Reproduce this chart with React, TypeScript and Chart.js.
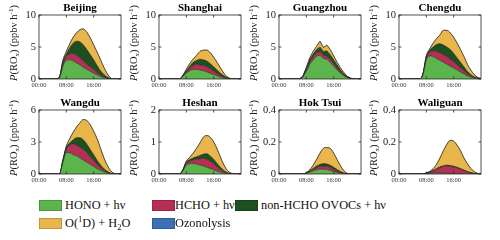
import React, { useEffect, useRef } from "react";
import { Chart, registerables } from "chart.js";

Chart.register(...registerables);

// ---------- data ----------
const HOURS = [0, 1, 2, 3, 4, 5, 6, 7, 8, 9, 10, 11, 12, 13, 14, 15, 16, 17, 18, 19, 20, 21, 22, 23, 24];
const X_TICKS = [0, 8, 16];
const X_TICK_LABELS = ["00:00", "08:00", "16:00"];

const SERIES_NAMES = ["HONO + hν", "HCHO + hν", "non-HCHO OVOCs + hν", "O(1D) + H2O", "Ozonolysis"];
const SERIES_COLORS = ["#5cb54c", "#b52f55", "#1d4f1f", "#e8b64b", "#3b6fb6"];

const SITE_NAMES = ["Beijing", "Shanghai", "Guangzhou", "Chengdu", "Wangdu", "Heshan", "Hok Tsui", "Waliguan"];
const SITE_YMAX = [10, 10, 10, 10, 6, 2, 0.4, 0.4];
const SITE_YTICKS = [[0, 5, 10], [0, 5, 10], [0, 5, 10], [0, 5, 10], [0, 3, 6], [0, 1, 2], [0, 0.2, 0.4], [0, 0.2, 0.4]];
const SITE_YTICK_LABELS = [
  ["0", "5", "10"], ["0", "5", "10"], ["0", "5", "10"], ["0", "5", "10"],
  ["0", "3", "6"], ["0", "1", "2"], ["0", "0.2", "0.4"], ["0", "0.2", "0.4"],
];

const NO_OZONOLYSIS = [0, 0, 0, 0, 0, 0, 0, 0, 0, 0, 0, 0, 0, 0, 0, 0, 0, 0, 0, 0, 0, 0, 0, 0, 0];

const BEIJING_HONO = [0, 0, 0, 0, 0, 0, 0.2, 2.0, 2.9, 3.0, 2.8, 2.5, 2.2, 1.8, 1.5, 1.2, 0.9, 0.65, 0.4, 0.2, 0.08, 0.02, 0, 0, 0];
const BEIJING_HCHO = [0, 0, 0, 0, 0, 0, 0.05, 0.4, 0.6, 0.9, 1.2, 1.2, 1.1, 1.0, 0.8, 0.7, 0.6, 0.35, 0.25, 0.15, 0.07, 0.02, 0, 0, 0];
const BEIJING_OVOC = [0, 0, 0, 0, 0, 0, 0.05, 0.3, 0.4, 1.0, 1.6, 2.2, 2.5, 2.5, 2.3, 1.9, 1.5, 1.1, 0.65, 0.35, 0.15, 0.04, 0, 0, 0];
const BEIJING_O1D = [0, 0, 0, 0, 0, 0, 0.05, 0.2, 0.4, 0.6, 0.9, 1.3, 1.9, 2.5, 2.7, 2.6, 2.3, 2.1, 1.7, 1.1, 0.5, 0.07, 0, 0, 0];

const SHANGHAI_HONO = [0, 0, 0, 0, 0, 0, 0, 0.4, 0.9, 1.3, 1.5, 1.5, 1.4, 1.3, 1.1, 0.9, 0.7, 0.5, 0.3, 0.15, 0.05, 0, 0, 0, 0];
const SHANGHAI_HCHO = [0, 0, 0, 0, 0, 0, 0, 0.1, 0.2, 0.4, 0.6, 0.8, 0.8, 0.8, 0.8, 0.7, 0.5, 0.4, 0.25, 0.15, 0.05, 0.02, 0, 0, 0];
const SHANGHAI_OVOC = [0, 0, 0, 0, 0, 0, 0, 0.05, 0.2, 0.3, 0.5, 0.6, 0.9, 0.9, 0.9, 0.8, 0.7, 0.5, 0.35, 0.2, 0.1, 0.02, 0, 0, 0];
const SHANGHAI_O1D = [0, 0, 0, 0, 0, 0, 0, 0.05, 0.2, 0.4, 0.5, 0.8, 1.2, 1.5, 1.7, 1.7, 1.5, 1.2, 0.8, 0.4, 0.1, 0.02, 0, 0, 0];

const GUANGZHOU_HONO = [0, 0, 0, 0, 0, 0, 0, 0.3, 1.2, 2.3, 3.0, 3.6, 3.7, 3.2, 3.1, 2.6, 2.0, 1.4, 0.9, 0.5, 0.2, 0.05, 0, 0, 0];
const GUANGZHOU_HCHO = [0, 0, 0, 0, 0, 0, 0, 0.05, 0.2, 0.4, 0.5, 0.5, 0.6, 0.5, 0.5, 0.5, 0.4, 0.3, 0.2, 0.1, 0.05, 0.02, 0, 0, 0];
const GUANGZHOU_OVOC = [0, 0, 0, 0, 0, 0, 0, 0.05, 0.2, 0.3, 0.4, 0.5, 0.7, 0.6, 0.8, 0.7, 0.6, 0.5, 0.3, 0.2, 0.1, 0.03, 0, 0, 0];
const GUANGZHOU_O1D = [0, 0, 0, 0, 0, 0, 0, 0.05, 0.2, 0.3, 0.4, 0.5, 0.9, 0.6, 0.9, 0.8, 0.6, 0.4, 0.3, 0.2, 0.05, 0.02, 0, 0, 0];

const CHENGDU_HONO = [0, 0, 0, 0, 0, 0, 0, 0.6, 3.0, 3.6, 3.5, 3.2, 2.9, 2.6, 2.3, 2.0, 1.7, 1.4, 1.1, 0.8, 0.5, 0.3, 0.15, 0.05, 0];
const CHENGDU_HCHO = [0, 0, 0, 0, 0, 0, 0, 0.1, 0.3, 0.5, 0.9, 1.1, 1.2, 1.2, 1.2, 1.1, 1.0, 0.8, 0.6, 0.5, 0.3, 0.2, 0.1, 0.03, 0];
const CHENGDU_OVOC = [0, 0, 0, 0, 0, 0, 0, 0.05, 0.2, 0.4, 0.6, 1.1, 1.4, 1.5, 1.5, 1.5, 1.3, 1.1, 0.9, 0.6, 0.4, 0.2, 0.1, 0.04, 0];
const CHENGDU_O1D = [0, 0, 0, 0, 0, 0, 0, 0.05, 0.1, 0.2, 0.6, 0.9, 1.4, 2.3, 2.6, 2.6, 2.5, 2.3, 2.0, 1.6, 1.1, 0.7, 0.35, 0.13, 0.03];
const CHENGDU_OZONOLYSIS = [0, 0, 0, 0, 0, 0, 0, 0, 0, 0, 0, 0, 0, 0, 0, 0, 0, 0, 0, 0, 0, 0, 0, 0.03, 0.08];

const WANGDU_HONO = [0, 0, 0, 0, 0, 0, 0, 1.1, 2.0, 2.0, 1.8, 1.7, 1.5, 1.3, 1.1, 0.9, 0.7, 0.5, 0.35, 0.2, 0.1, 0.03, 0, 0, 0];
const WANGDU_HCHO = [0, 0, 0, 0, 0, 0, 0, 0.1, 0.3, 0.7, 1.0, 1.0, 1.0, 1.0, 0.9, 0.7, 0.6, 0.4, 0.25, 0.15, 0.05, 0.02, 0, 0, 0];
const WANGDU_OVOC = [0, 0, 0, 0, 0, 0, 0, 0.1, 0.2, 0.2, 0.4, 0.7, 0.9, 0.9, 0.8, 0.7, 0.5, 0.4, 0.25, 0.15, 0.1, 0.03, 0, 0, 0];
const WANGDU_O1D = [0, 0, 0, 0, 0, 0, 0, 0, 0.1, 0.4, 0.7, 1.0, 1.4, 1.9, 2.2, 2.3, 2.2, 2.0, 1.55, 1.0, 0.55, 0.22, 0.05, 0, 0];

const HESHAN_HONO = [0, 0, 0, 0, 0, 0, 0, 0.1, 0.28, 0.32, 0.33, 0.31, 0.28, 0.25, 0.21, 0.17, 0.13, 0.09, 0.06, 0.03, 0.01, 0, 0, 0, 0];
const HESHAN_HCHO = [0, 0, 0, 0, 0, 0, 0, 0.02, 0.05, 0.08, 0.11, 0.15, 0.2, 0.24, 0.25, 0.23, 0.19, 0.13, 0.08, 0.04, 0.02, 0.01, 0, 0, 0];
const HESHAN_OVOC = [0, 0, 0, 0, 0, 0, 0, 0.01, 0.04, 0.05, 0.06, 0.08, 0.1, 0.13, 0.17, 0.16, 0.14, 0.11, 0.07, 0.04, 0.01, 0, 0, 0, 0];
const HESHAN_O1D = [0, 0, 0, 0, 0, 0, 0, 0.01, 0.03, 0.07, 0.15, 0.26, 0.39, 0.53, 0.57, 0.59, 0.54, 0.45, 0.31, 0.17, 0.07, 0.02, 0, 0, 0];

const HOKTSUI_HONO = [0, 0, 0, 0, 0, 0, 0, 0, 0.005, 0.012, 0.02, 0.026, 0.03, 0.03, 0.028, 0.022, 0.016, 0.01, 0.005, 0.002, 0, 0, 0, 0, 0];
const HOKTSUI_HCHO = [0, 0, 0, 0, 0, 0, 0, 0, 0.001, 0.004, 0.01, 0.014, 0.018, 0.02, 0.02, 0.018, 0.014, 0.01, 0.005, 0.002, 0, 0, 0, 0, 0];
const HOKTSUI_OVOC = [0, 0, 0, 0, 0, 0, 0, 0, 0.001, 0.004, 0.005, 0.01, 0.012, 0.015, 0.014, 0.015, 0.012, 0.008, 0.005, 0.002, 0.001, 0, 0, 0, 0];
const HOKTSUI_O1D = [0, 0, 0, 0, 0, 0, 0, 0, 0.001, 0.005, 0.02, 0.04, 0.07, 0.095, 0.103, 0.105, 0.088, 0.062, 0.035, 0.014, 0.003, 0, 0, 0, 0];

const WALIGUAN_HONO = [0, 0, 0, 0, 0, 0, 0, 0, 0.002, 0.004, 0.005, 0.005, 0.005, 0.005, 0.004, 0.004, 0.003, 0.002, 0.002, 0.001, 0.001, 0, 0, 0, 0];
const WALIGUAN_HCHO = [0, 0, 0, 0, 0, 0, 0, 0, 0.002, 0.006, 0.015, 0.025, 0.035, 0.042, 0.046, 0.044, 0.041, 0.036, 0.028, 0.021, 0.013, 0.008, 0.003, 0.001, 0];
const WALIGUAN_OVOC = [0, 0, 0, 0, 0, 0, 0, 0, 0.001, 0.002, 0.003, 0.004, 0.005, 0.005, 0.005, 0.005, 0.005, 0.004, 0.004, 0.003, 0.002, 0.001, 0.001, 0, 0];
const WALIGUAN_O1D = [0, 0, 0, 0, 0, 0, 0, 0, 0.001, 0.004, 0.01, 0.026, 0.055, 0.093, 0.13, 0.157, 0.156, 0.138, 0.111, 0.075, 0.049, 0.026, 0.011, 0.003, 0];

const SITE_SERIES = [
  [BEIJING_HONO, BEIJING_HCHO, BEIJING_OVOC, BEIJING_O1D, NO_OZONOLYSIS],
  [SHANGHAI_HONO, SHANGHAI_HCHO, SHANGHAI_OVOC, SHANGHAI_O1D, NO_OZONOLYSIS],
  [GUANGZHOU_HONO, GUANGZHOU_HCHO, GUANGZHOU_OVOC, GUANGZHOU_O1D, NO_OZONOLYSIS],
  [CHENGDU_HONO, CHENGDU_HCHO, CHENGDU_OVOC, CHENGDU_O1D, CHENGDU_OZONOLYSIS],
  [WANGDU_HONO, WANGDU_HCHO, WANGDU_OVOC, WANGDU_O1D, NO_OZONOLYSIS],
  [HESHAN_HONO, HESHAN_HCHO, HESHAN_OVOC, HESHAN_O1D, NO_OZONOLYSIS],
  [HOKTSUI_HONO, HOKTSUI_HCHO, HOKTSUI_OVOC, HOKTSUI_O1D, NO_OZONOLYSIS],
  [WALIGUAN_HONO, WALIGUAN_HCHO, WALIGUAN_OVOC, WALIGUAN_O1D, NO_OZONOLYSIS],
];
const SITE_SMOOTH = [true, true, false, true, true, true, true, true];

// ---------- layout ----------
const SERIF = "'Liberation Serif', Tinos, 'Times New Roman', 'DejaVu Serif', serif";
const CANVAS_W = 123;
const CANVAS_H = 93;
const PAD_TOP = 15;
const Y_AXIS_W = 39;
const X_AXIS_H = 14;
const COL_STEP = 120;
const ROW_TOPS = [0, 95];

function Panel({ idx }: { idx: number }) {
  const ref = useRef<HTMLCanvasElement | null>(null);
  useEffect(() => {
    const canvas = ref.current;
    if (!canvas) return;
    const yTicks = SITE_YTICKS[idx];
    const yLabels = SITE_YTICK_LABELS[idx];
    const title = SITE_NAMES[idx];
    const decor = {
      id: "panelDecor" + idx,
      afterDraw(chart: any) {
        const { ctx, chartArea: a, scales } = chart;
        ctx.save();
        ctx.strokeStyle = "#262626";
        ctx.lineWidth = 0.8;
        ctx.strokeRect(a.left, a.top, a.right - a.left, a.bottom - a.top);
        ctx.beginPath();
        X_TICKS.forEach((v) => {
          const px = scales.x.getPixelForValue(v);
          ctx.moveTo(px, a.bottom);
          ctx.lineTo(px, a.bottom - 2.5);
          ctx.moveTo(px, a.top);
          ctx.lineTo(px, a.top + 2.5);
        });
        yTicks.forEach((v) => {
          const py = scales.y.getPixelForValue(v);
          ctx.moveTo(a.left, py);
          ctx.lineTo(a.left + 2.5, py);
          ctx.moveTo(a.right, py);
          ctx.lineTo(a.right - 2.5, py);
        });
        ctx.stroke();
        // title
        ctx.fillStyle = "#000";
        ctx.font = `bold 11px ${SERIF}`;
        ctx.textAlign = "center";
        ctx.textBaseline = "middle";
        ctx.fillText(title, (a.left + a.right) / 2, a.top - 7);
        // y title with rich text
        const segs = [
          { t: "P", f: `italic 10.5px ${SERIF}`, dy: 0 },
          { t: "(RO", f: `10.5px ${SERIF}`, dy: 0 },
          { t: "x", f: `7px ${SERIF}`, dy: 2.8 },
          { t: ") (ppbv h", f: `10.5px ${SERIF}`, dy: 0 },
          { t: "-1", f: `7px ${SERIF}`, dy: -3.5 },
          { t: ")", f: `10.5px ${SERIF}`, dy: 0 },
        ];
        let total = 0;
        const widths = segs.map((s) => {
          ctx.font = s.f;
          const w = ctx.measureText(s.t).width;
          total += w;
          return w;
        });
        ctx.translate(14.5, (a.top + a.bottom) / 2 - 4);
        ctx.rotate(-Math.PI / 2);
        ctx.textAlign = "left";
        ctx.fillStyle = "#222";
        let x = -total / 2;
        segs.forEach((s, i) => {
          ctx.font = s.f;
          ctx.fillText(s.t, x, s.dy);
          x += widths[i];
        });
        ctx.restore();
      },
    };
    const chart = new Chart(canvas, {
      type: "line",
      data: {
        datasets: SITE_SERIES[idx].map((arr, i) => ({
          label: SERIES_NAMES[i],
          data: arr.map((y, k) => ({ x: HOURS[k], y })),
          backgroundColor: SERIES_COLORS[i],
          borderColor: "#1a1a1a",
          borderWidth: 0.6,
          fill: i === 0 ? "origin" : "-1",
          pointRadius: 0,
          tension: SITE_SMOOTH[idx] ? 0.4 : 0,
          cubicInterpolationMode: SITE_SMOOTH[idx] ? "monotone" : "default",
        })),
      },
      options: {
        animation: false,
        responsive: false,
        events: [],
        layout: { padding: { left: 0, top: PAD_TOP, right: 2, bottom: 0 } },
        plugins: { legend: { display: false }, tooltip: { enabled: false }, title: { display: false } },
        scales: {
          x: {
            type: "linear",
            min: 0,
            max: 24,
            grid: { display: false, drawTicks: false },
            border: { display: false },
            afterBuildTicks: (scale: any) => {
              scale.ticks = X_TICKS.map((v) => ({ value: v }));
            },
            afterFit: (scale: any) => {
              scale.height = X_AXIS_H;
            },
            ticks: {
              autoSkip: false,
              maxRotation: 0,
              padding: 2,
              color: "#333",
              font: { family: SERIF, size: 6.5 },
              callback: (_v: any, i: number) => X_TICK_LABELS[i],
            },
          },
          y: {
            stacked: true,
            min: 0,
            max: SITE_YMAX[idx],
            grid: { display: false, drawTicks: false },
            border: { display: false },
            afterBuildTicks: (scale: any) => {
              scale.ticks = yTicks.map((v) => ({ value: v }));
            },
            afterFit: (scale: any) => {
              scale.width = Y_AXIS_W;
            },
            ticks: {
              autoSkip: false,
              padding: 3,
              color: "#222",
              font: { family: SERIF, size: 10.5 },
              callback: (_v: any, i: number) => yLabels[i],
            },
          },
        },
      },
      plugins: [decor],
    } as any);
    return () => chart.destroy();
  }, [idx]);
  const col = idx % 4;
  const row = Math.floor(idx / 4);
  return (
    <canvas
      ref={ref}
      width={CANVAS_W}
      height={CANVAS_H}
      style={{ position: "absolute", left: col * COL_STEP, top: ROW_TOPS[row], width: CANVAS_W, height: CANVAS_H }}
    />
  );
}

function LegendItem({ color, left, top, textLeft, children }: any) {
  return (
    <>
      <div style={{ position: "absolute", left, top: top - 5, width: 23, height: 10.5, background: color, boxShadow: "inset 0 0 0 0.5px rgba(0,0,0,0.35)" }} />
      <div style={{ position: "absolute", left: textLeft, top: top - 8, height: 16, lineHeight: "16px", fontFamily: SERIF, fontSize: 12.3, color: "#111", whiteSpace: "nowrap" }}>
        {children}
      </div>
    </>
  );
}

export default function App() {
  return (
    <div style={{ position: "absolute", left: 0, top: 0, width: 500, height: 240, background: "#fff", overflow: "hidden", fontFamily: SERIF }}>
      {SITE_NAMES.map((_, i) => (
        <Panel key={i} idx={i} />
      ))}
      <LegendItem color={SERIES_COLORS[0]} left={39} top={205} textLeft={65}>HONO + hν</LegendItem>
      <LegendItem color={SERIES_COLORS[1]} left={152} top={205} textLeft={175}>HCHO + hν</LegendItem>
      <LegendItem color={SERIES_COLORS[2]} left={235} top={205} textLeft={261}>non-HCHO OVOCs + hν</LegendItem>
      <LegendItem color={SERIES_COLORS[3]} left={39} top={223} textLeft={65}>
        O(<span style={{ fontSize: 8.5, position: "relative", top: -5 }}>1</span>D) + H
        <span style={{ fontSize: 8.5, position: "relative", top: 3 }}>2</span>O
      </LegendItem>
      <LegendItem color={SERIES_COLORS[4]} left={152} top={223} textLeft={175}>Ozonolysis</LegendItem>
    </div>
  );
}
